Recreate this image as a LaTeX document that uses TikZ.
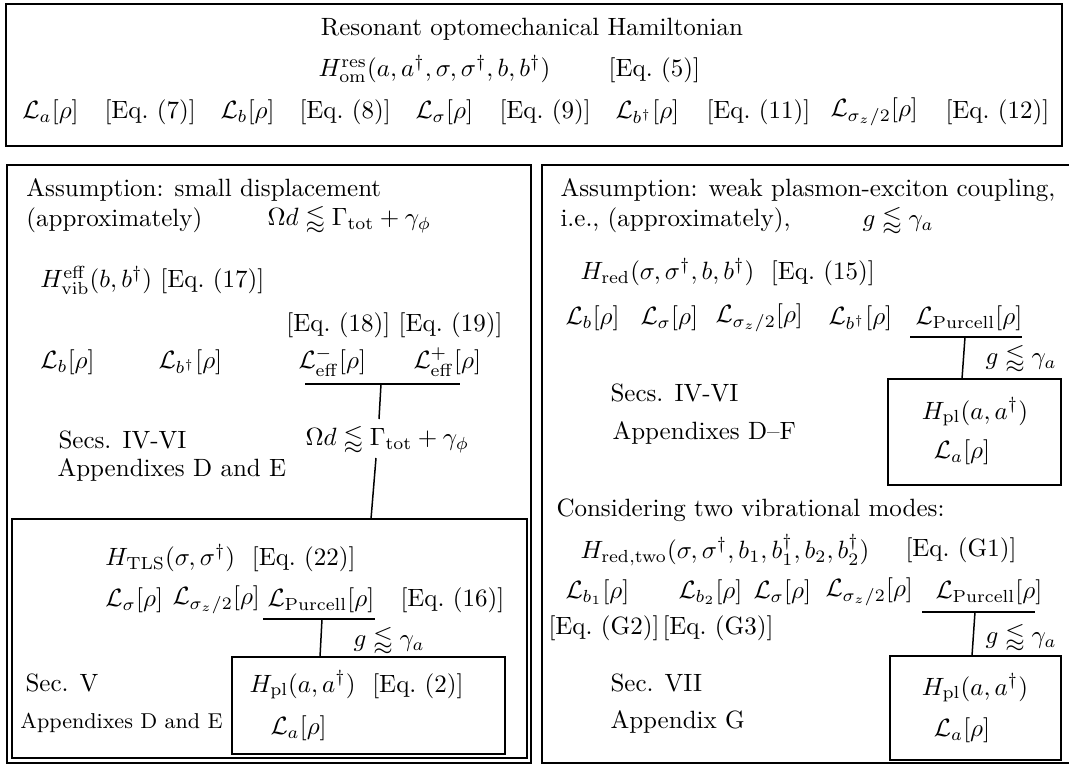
\documentclass[tikz,border=0pt]{standalone}
\usepackage{amsmath}
\usepackage{amssymb}
\usepackage{tikz}
\usetikzlibrary{positioning, fit}

\begin{document}
\begin{tikzpicture}[
    x=0.4pt, y=-0.4pt,
    frame/.style={rectangle, draw, line width=0.8pt, inner sep=0pt},
    txt/.style={anchor=west, inner sep=0pt},
    link/.style={line width=0.6pt}
]
\useasboundingbox (0,0) rectangle (1069,767);
\clip (0,0) rectangle (1069,767);

% Frames
\node[frame, fit={(6,4) (1062,146)}] (top) {};
\node[frame, fit={(7,165) (531,763)}] (left) {};
\node[frame, fit={(12,519) (527,758)}] (tls) {};
\node[frame, fit={(232,657) (505,754)}] (plL) {};
\node[frame, fit={(542,165) (1075,763)}] (right) {};
\node[frame, fit={(888,379) (1061,485)}] (plR) {};
\node[frame, fit={(890,656) (1061,760)}] (plRR) {};

% Full Hamiltonian
\node[anchor=center, inner sep=0pt] (title) at (532,29) {Resonant optomechanical Hamiltonian};
\node[txt] (hom) at (318,69) {$H_{\mathrm{om}}^{\mathrm{res}}(a,a^\dagger,\sigma,\sigma^\dagger,b,b^\dagger)$ \qquad [Eq.~(5)]};
\node[txt] (la) at (22,112) {$\mathcal{L}_a[\rho]$};
\node[txt] (eq7) at (104,112) {[Eq.~(7)]};
\node[txt] (lb) at (220,112) {$\mathcal{L}_b[\rho]$};
\node[txt] (eq8) at (299,112) {[Eq.~(8)]};
\node[txt] (ls) at (415,112) {$\mathcal{L}_\sigma[\rho]$};
\node[txt] (eq9) at (499,112) {[Eq.~(9)]};
\node[txt] (lbd) at (615,112) {$\mathcal{L}_{b^\dagger}[\rho]$};
\node[txt] (eq11) at (706,112) {[Eq.~(11)]};
\node[txt] (lsz) at (830,112) {$\mathcal{L}_{\sigma_z/2}[\rho]$};
\node[txt] (eq12) at (945,112) {[Eq.~(12)]};

% Small displacement
\node[txt] (asmL) at (26,190) {Assumption: small displacement};
\node[txt] (apxL) at (26,220) {(approximately)};
\node[txt] (condL) at (267,220) {$\Omega d \lessapprox \Gamma_{\mathrm{tot}}+\gamma_\phi$};
\node[txt] (hvib) at (40,280) {$H_{\mathrm{vib}}^{\mathrm{eff}}(b,b^\dagger)$ [Eq.~(17)]};
\node[anchor=east, inner sep=0pt] (eq1819) at (503,325) {[Eq.~(18)] [Eq.~(19)]};
\node[txt] (lbL) at (40,362) {$\mathcal{L}_b[\rho]$};
\node[txt] (lbdL) at (158,362) {$\mathcal{L}_{b^\dagger}[\rho]$};
\node[txt] (lem) at (298,362) {$\mathcal{L}_{\mathrm{eff}}^{-}[\rho]$};
\node[txt] (lep) at (413,362) {$\mathcal{L}_{\mathrm{eff}}^{+}[\rho]$};
\node[txt] (secL) at (58,440) {Secs. IV-VI};
\node[txt] (condL2) at (305,440) {$\Omega d \lessapprox \Gamma_{\mathrm{tot}}+\gamma_\phi$};
\node[txt] (appL) at (57,470) {Appendixes D and E};

% Two-level system
\node[txt] (htls) at (105,558) {$H_{\mathrm{TLS}}(\sigma,\sigma^\dagger)$\ \ [Eq.~(22)]};
\node[txt] (lsT) at (105,600) {$\mathcal{L}_\sigma[\rho]$};
\node[txt] (lszT) at (172,600) {$\mathcal{L}_{\sigma_z/2}[\rho]$};
\node[txt] (lpT) at (267,600) {$\mathcal{L}_{\mathrm{Purcell}}[\rho]$};
\node[txt] (eq16) at (400,600) {[Eq.~(16)]};
\node[txt] (gT) at (353,640) {$g \lessapprox \gamma_a$};
\node[txt] (hplL) at (249,685) {$H_{\mathrm{pl}}(a,a^\dagger)$\ \ [Eq.~(2)]};
\node[txt] (laL) at (270,728) {$\mathcal{L}_a[\rho]$};
\node[txt] (secV) at (25,683) {Sec. V};
\node[txt, font=\fontsize{8.6}{10}\selectfont] (appV) at (20,723) {Appendixes D and E};

% Weak coupling
\node[txt] (asmR) at (560,190) {Assumption: weak plasmon-exciton coupling,};
\node[txt] (apxR) at (560,220) {i.e., (approximately),};
\node[txt] (condR) at (862,220) {$g \lessapprox \gamma_a$};
\node[txt] (hred) at (580,272) {$H_{\mathrm{red}}(\sigma,\sigma^\dagger,b,b^\dagger)$\ \ [Eq.~(15)]};
\node[txt] (lbR) at (565,318) {$\mathcal{L}_b[\rho]$};
\node[txt] (lsR) at (640,318) {$\mathcal{L}_\sigma[\rho]$};
\node[txt] (lszR) at (715,318) {$\mathcal{L}_{\sigma_z/2}[\rho]$};
\node[txt] (lbdR) at (828,318) {$\mathcal{L}_{b^\dagger}[\rho]$};
\node[txt] (lpR) at (915,318) {$\mathcal{L}_{\mathrm{Purcell}}[\rho]$};
\node[txt] (gR) at (985,358) {$g \lessapprox \gamma_a$};
\node[anchor=center, inner sep=0pt] (hplR) at (975,412) {$H_{\mathrm{pl}}(a,a^\dagger)$};
\node[anchor=center, inner sep=0pt] (laR) at (962,452) {$\mathcal{L}_a[\rho]$};
\node[txt] (secR) at (610,393) {Secs. IV-VI};
\node[txt] (appR) at (612,433) {Appendixes D--F};

% Two vibrational modes
\node[txt] (two) at (556,510) {Considering two vibrational modes:};
\node[txt] (hred2) at (580,550) {$H_{\mathrm{red,two}}(\sigma,\sigma^\dagger,b_1,b_1^\dagger,b_2,b_2^\dagger)$};
\node[txt] (eqG1) at (905,550) {[Eq.~(G1)]};
\node[txt] (lb1) at (565,592) {$\mathcal{L}_{b_1}[\rho]$};
\node[txt] (lb2) at (678,592) {$\mathcal{L}_{b_2}[\rho]$};
\node[txt] (lsW) at (753,592) {$\mathcal{L}_\sigma[\rho]$};
\node[txt] (lszW) at (825,592) {$\mathcal{L}_{\sigma_z/2}[\rho]$};
\node[txt] (lpW) at (935,592) {$\mathcal{L}_{\mathrm{Purcell}}[\rho]$};
\node[txt] (eqG2) at (548,628) {[Eq.~(G2)]};
\node[txt] (eqG3) at (662,628) {[Eq.~(G3)]};
\node[txt] (gW) at (985,637) {$g \lessapprox \gamma_a$};
\node[anchor=center, inner sep=0pt] (hplW) at (975,688) {$H_{\mathrm{pl}}(a,a^\dagger)$};
\node[anchor=center, inner sep=0pt] (laW) at (962,730) {$\mathcal{L}_a[\rho]$};
\node[txt] (secW) at (610,683) {Sec. VII};
\node[txt] (appW) at (610,722) {Appendix G};

% Bars and links
\coordinate (barA1) at (305,384);
\coordinate (barA2) at (460,384);
\coordinate (jA1) at (381,384);
\coordinate (jA2) at (379,419);
\coordinate (jA3) at (376,458);
\coordinate (jA4) at (371,519);
\draw[link] (barA1) -- (barA2);
\draw[link] (jA1) -- (jA2);
\draw[link] (jA3) -- (jA4);

\coordinate (barB1) at (263,619);
\coordinate (barB2) at (375,619);
\coordinate (jB1) at (322,619);
\coordinate (jB2) at (320,657);
\draw[link] (barB1) -- (barB2);
\draw[link] (jB1) -- (jB2);

\coordinate (barC1) at (910,337);
\coordinate (barC2) at (1022,337);
\coordinate (jC1) at (965,337);
\coordinate (jC2) at (962,379);
\draw[link] (barC1) -- (barC2);
\draw[link] (jC1) -- (jC2);

\coordinate (barD1) at (922,612);
\coordinate (barD2) at (1035,612);
\coordinate (jD1) at (975,612);
\coordinate (jD2) at (972,656);
\draw[link] (barD1) -- (barD2);
\draw[link] (jD1) -- (jD2);
\end{tikzpicture}
\end{document}
